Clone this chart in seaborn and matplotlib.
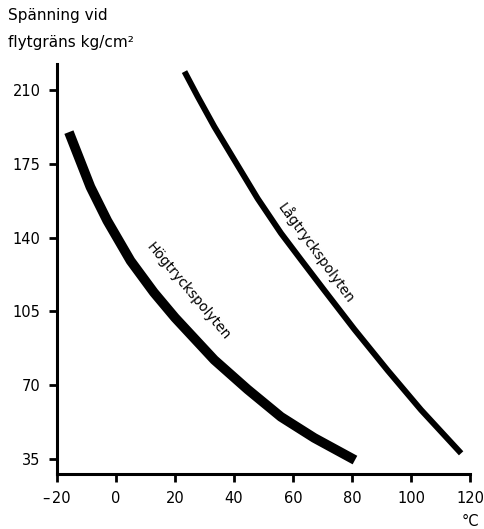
import matplotlib
matplotlib.use("Agg")
import matplotlib.pyplot as plt
import seaborn as sns
import pandas as pd

# Data
hog_temp = [-16, -8.7, -3, 4.9, 12.8, 20, 33.3, 44.6, 55.9, 67.2, 81]
hog_stress = [190, 164, 148, 129, 114, 102, 82, 68, 55, 45, 34.5]
lag_temp = [23.2, 27.7, 33.3, 40.1, 48.0, 55.9, 62.7, 70.6, 80.8, 92.1, 103.4, 117]
lag_stress = [218.7, 206.8, 192.6, 176.8, 158.5, 142.1, 129.5, 115, 96.5, 77, 58.3, 37.7]

x_ticks = [-20, 0, 20, 40, 60, 80, 100, 120]
x_tick_labels = ["\u2013\u200a20", "0", "20", "40", "60", "80", "100", "120"]
y_ticks = [35, 70, 105, 140, 175, 210]

sns.set_style("ticks")
plt.rcParams['font.family'] = ['DejaVu Sans']
plt.rcParams['text.color'] = 'black'

fig = plt.figure(figsize=(4.84, 5.29), dpi=100)
ax = fig.add_axes([0.118, 0.104, 0.853, 0.775])

df_hog = pd.DataFrame({"temp": hog_temp, "stress": hog_stress})
df_lag = pd.DataFrame({"temp": lag_temp, "stress": lag_stress})
sns.lineplot(data=df_hog, x="temp", y="stress", sort=False, color="black",
             linewidth=7.0, ax=ax, solid_capstyle="butt", solid_joinstyle="round")
sns.lineplot(data=df_lag, x="temp", y="stress", sort=False, color="black",
             linewidth=4.3, ax=ax, solid_capstyle="butt", solid_joinstyle="round")

ax.set_xlim(-20, 120)
ax.set_ylim(27.9, 222.3)
ax.set_xticks(x_ticks)
ax.set_xticklabels(x_tick_labels)
ax.set_yticks(y_ticks)
ax.set_xlabel("")
ax.set_ylabel("")
sns.despine(ax=ax)
for s in ["left", "bottom"]:
    ax.spines[s].set_linewidth(2.2)
    ax.spines[s].set_color("black")
ax.tick_params(axis="both", direction="out", width=2, length=6,
               labelsize=10.5, colors="black", pad=6)

ax.text(24.4, 114.5, "Högtryckspolyten", rotation=-50, ha="center",
        va="center", fontsize=10, rotation_mode="anchor", color="black")
ax.text(67.8, 133, "Lågtryckspolyten", rotation=-54, ha="center",
        va="center", fontsize=10, rotation_mode="anchor", color="black")

fig.text(8 / 484, 1 - 29 / 529, "Spänning vid\nflytgräns kg/cm²",
         ha="left", va="center", fontsize=11, linespacing=1.95, color="black")
fig.text(470 / 484, 1 - 521 / 529, "°C", ha="center", va="center",
         fontsize=10.5, color="black")

fig.savefig("out.png", dpi=100, facecolor="white")
